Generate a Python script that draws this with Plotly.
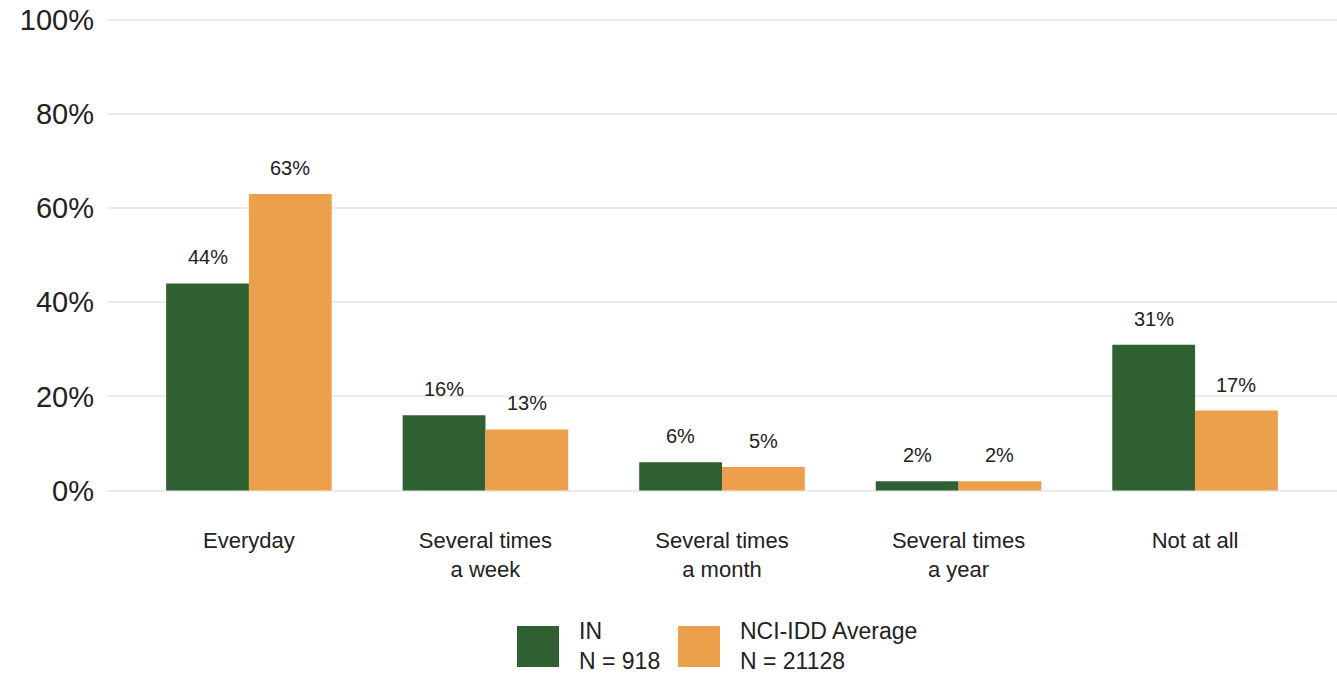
import plotly.graph_objects as go

# Frequency categories and survey shares (%)
categories = ["Everyday", "Several times<br>a week", "Several times<br>a month",
              "Several times<br>a year", "Not at all"]
in_values = [44, 16, 6, 2, 31]
avg_values = [63, 13, 5, 2, 17]
series_names = ["IN<br>N = 918", "NCI-IDD Average<br>N = 21128"]
y_ticks = [0, 20, 40, 60, 80, 100]
y_tick_labels = ["0%", "20%", "40%", "60%", "80%", "100%"]

GREEN = "#2F6032"
ORANGE = "#ECA04C"
FONT = "Liberation Sans, Arial, sans-serif"
TEXT = "#222222"

W, H = 1337, 674
M_L, M_R, M_T, M_B = 107, 0, 1, 174
BAR_W = 0.35

xs = list(range(len(categories)))
fig = go.Figure()
for vals, color, off in [(in_values, GREEN, -BAR_W / 2), (avg_values, ORANGE, BAR_W / 2)]:
    fig.add_trace(go.Bar(
        x=[x + off for x in xs], y=vals, width=BAR_W,
        marker=dict(color=color, line=dict(width=0)),
        showlegend=False, hoverinfo="skip",
    ))
    for x, v in zip(xs, vals):
        fig.add_annotation(
            x=x + off, y=v, text=f"{v}%", showarrow=False,
            xref="x", yref="y", yanchor="bottom", yshift=13,
            font=dict(family=FONT, size=20, color=TEXT),
        )


def px_to_paper(px, py):
    pw = W - M_L - M_R
    ph = H - M_T - M_B
    return (px - M_L) / pw, (H - M_B - py) / ph


# Legend drawn with large swatches
legend_items = [(517, GREEN, series_names[0]), (678, ORANGE, series_names[1])]
for left, color, label in legend_items:
    x0, y0 = px_to_paper(left, 667)
    x1, y1 = px_to_paper(left + 42, 626)
    fig.add_shape(type="rect", xref="paper", yref="paper", x0=x0, y0=y0, x1=x1, y1=y1,
                  fillcolor=color, line=dict(width=0))
    tx, ty = px_to_paper(left + 60, 646)
    fig.add_annotation(x=tx, y=ty, xref="paper", yref="paper", text=label,
                       showarrow=False, xanchor="left", yanchor="middle", align="left",
                       font=dict(family=FONT, size=23, color=TEXT))

fig.update_layout(
    width=W, height=H,
    margin=dict(l=M_L, r=M_R, t=M_T, b=M_B),
    plot_bgcolor="white", paper_bgcolor="white",
    barmode="overlay",
    font=dict(family=FONT, color=TEXT),
    xaxis=dict(
        range=[-0.6, 4.6], tickmode="array", tickvals=xs, ticktext=categories,
        showgrid=False, zeroline=False, showline=False, ticks="",
        tickfont=dict(family=FONT, size=22, color=TEXT),
        ticklabelstandoff=25,
    ),
    yaxis=dict(
        range=[-2, 104], tickmode="array", tickvals=y_ticks, ticktext=y_tick_labels,
        showgrid=True, gridcolor="#EBEBEB", gridwidth=1.5, zeroline=False,
        showline=False, ticks="", tickfont=dict(family=FONT, size=29, color=TEXT),
        ticklabelstandoff=12,
    ),
)

fig.write_html("out.html")
